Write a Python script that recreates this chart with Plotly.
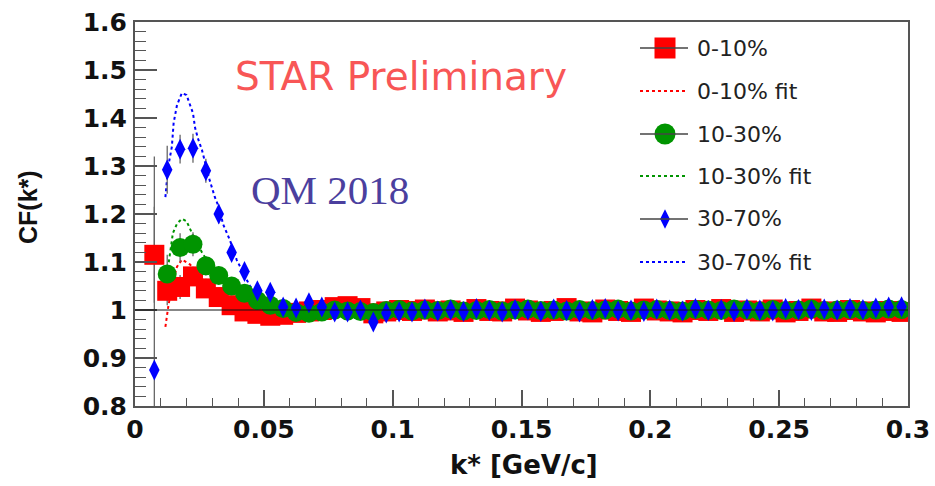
import plotly.graph_objects as go

# k* bin centres [GeV/c]
K = [0.0075, 0.0125, 0.0175, 0.0225, 0.0275, 0.0325, 0.0375, 0.0425, 0.0475, 0.0525,
     0.0575, 0.0625, 0.0675, 0.0725, 0.0775, 0.0825, 0.0875, 0.0925, 0.0975, 0.1025,
     0.1075, 0.1125, 0.1175, 0.1225, 0.1275, 0.1325, 0.1375, 0.1425, 0.1475, 0.1525,
     0.1575, 0.1625, 0.1675, 0.1725, 0.1775, 0.1825, 0.1875, 0.1925, 0.1975, 0.2025,
     0.2075, 0.2125, 0.2175, 0.2225, 0.2275, 0.2325, 0.2375, 0.2425, 0.2475, 0.2525,
     0.2575, 0.2625, 0.2675, 0.2725, 0.2775, 0.2825, 0.2875, 0.2925, 0.2975]

# correlation function, 0-10% centrality
CF_0_10 = [1.115, 1.040, 1.048, 1.070, 1.045, 1.027, 1.010, 0.997, 0.992, 0.988,
           0.990, 0.994, 0.997, 1.000, 1.006, 1.008, 1.004, 0.993, 0.997, 1.000,
           0.998, 1.001, 0.997, 0.999, 0.996, 1.002, 0.998, 0.997, 1.003, 0.999,
           0.996, 0.998, 1.004, 0.997, 0.995, 1.001, 0.998, 0.996, 1.003, 0.999,
           0.997, 0.995, 1.000, 0.998, 1.002, 0.996, 0.999, 0.997, 1.001, 0.995,
           0.998, 1.003, 0.997, 0.996, 1.000, 0.997, 0.995, 0.998, 0.996]

# correlation function, 10-30% centrality
CF_10_30 = [None, 1.075, 1.130, 1.137, 1.092, 1.072, 1.050, 1.035, 1.020, 1.010,
            1.003, 0.995, 0.993, 0.996, 1.000, 0.998, 0.997, 0.995, 0.999, 1.001,
            0.998, 1.000, 0.999, 1.002, 0.998, 0.999, 1.001, 0.998, 1.000, 1.002,
            0.999, 1.000, 0.998, 1.001, 0.999, 1.000, 1.002, 0.998, 1.000, 1.001,
            0.999, 0.998, 1.001, 1.000, 0.999, 1.002, 1.000, 0.998, 1.001, 0.999,
            1.000, 1.002, 0.999, 1.000, 1.001, 0.999, 1.000, 1.002, 1.001]

# correlation function, 30-70% centrality
CF_30_70 = [0.875, 1.292, 1.335, 1.337, 1.290, 1.200, 1.120, 1.080, 1.040, 1.037,
            1.006, 1.004, 1.015, 1.006, 0.996, 0.996, 1.000, 0.975, 0.994, 0.996,
            0.996, 1.002, 0.998, 1.000, 0.997, 1.003, 0.999, 0.996, 1.001, 1.000,
            0.997, 1.002, 0.999, 0.996, 1.001, 1.003, 0.998, 1.000, 0.997, 1.002,
            1.000, 0.998, 1.003, 0.999, 1.001, 0.997, 1.002, 1.000, 0.998, 1.003,
            1.001, 0.999, 1.002, 1.000, 1.003, 1.001, 1.004, 1.006, 1.007]

# statistical errors of the lowest bins (higher bins are smaller than the markers)
ERR_0_10 = [0.10, 0.03, 0.025, 0.02, 0.02, 0.015]
ERR_10_30 = [None, 0.04, 0.03, 0.025, 0.02, 0.015]
ERR_30_70 = [0.445, 0.05, 0.03, 0.03, 0.025, 0.02]

# fitted curves
FIT_0_10_K = [0.0118, 0.0125, 0.0130, 0.0147, 0.0163, 0.0182, 0.0200, 0.0213, 0.0230,
              0.0260, 0.0300, 0.0350, 0.0400, 0.0500, 0.0600, 0.3000]
FIT_0_10 = [0.965, 0.990, 1.010, 1.060, 1.090, 1.105, 1.100, 1.095, 1.085,
            1.065, 1.045, 1.025, 1.012, 1.003, 1.000, 1.000]

FIT_10_30_K = [0.0118, 0.0130, 0.0147, 0.0163, 0.0182, 0.0200, 0.0213, 0.0230, 0.0260,
               0.0300, 0.0350, 0.0400, 0.0450, 0.0500, 0.0600, 0.0800, 0.3000]
FIT_10_30 = [1.050, 1.100, 1.160, 1.180, 1.190, 1.185, 1.170, 1.150, 1.120,
             1.085, 1.055, 1.035, 1.020, 1.012, 1.005, 1.000, 1.000]

FIT_30_70_K = [0.0118, 0.0128, 0.0143, 0.0150, 0.0163, 0.0182, 0.0200, 0.0213, 0.0225,
               0.0233, 0.0244, 0.0260, 0.0271, 0.0290, 0.0310, 0.0330, 0.0341, 0.0368,
               0.0395, 0.0446, 0.0492, 0.0562, 0.0700, 0.1000, 0.3000]
FIT_30_70 = [1.235, 1.296, 1.340, 1.390, 1.427, 1.452, 1.448, 1.430, 1.410,
             1.380, 1.358, 1.333, 1.310, 1.270, 1.235, 1.208, 1.180, 1.146,
             1.104, 1.050, 1.025, 1.010, 1.003, 1.000, 1.000]

LEGEND_LABELS = ["0-10%", "0-10% fit", "10-30%", "10-30% fit", "30-70%", "30-70% fit"]

RED, GREEN, BLUE = "#ff0000", "#009400", "#0000ff"

# frame of the plotting area in pixels
W, H = 935, 486
L, R, T, B = 135, 908, 22, 406


def px_x(px):
    return (px - L) / (R - L)


def px_y(py):
    return (B - py) / (B - T)


fig = go.Figure()

# fits
for kx, ky, col in [(FIT_0_10_K, FIT_0_10, RED), (FIT_10_30_K, FIT_10_30, GREEN),
                    (FIT_30_70_K, FIT_30_70, BLUE)]:
    fig.add_trace(go.Scatter(x=kx, y=ky, mode="lines",
                             line=dict(color=col, width=2, dash="dot"),
                             showlegend=False, hoverinfo="skip"))

# error bars of the low-k bins
for ys, errs in [(CF_0_10, ERR_0_10), (CF_10_30, ERR_10_30), (CF_30_70, ERR_30_70)]:
    n = len(errs)
    fig.add_trace(go.Scatter(x=K[:n], y=ys[:n], mode="markers",
                             marker=dict(size=1, opacity=0),
                             error_y=dict(type="data", array=errs, symmetric=True,
                                          color="#666666", thickness=1.3, width=0),
                             showlegend=False, hoverinfo="skip"))

# data points
fig.add_trace(go.Scatter(x=K, y=CF_0_10, mode="markers", name="0-10%",
                         marker=dict(symbol="square", size=20, color=RED),
                         showlegend=False))
fig.add_trace(go.Scatter(x=K, y=CF_10_30, mode="markers", name="10-30%",
                         marker=dict(symbol="circle", size=19, color=GREEN),
                         showlegend=False))
fig.add_trace(go.Scatter(x=K, y=CF_30_70, mode="markers", name="30-70%",
                         marker=dict(symbol="diamond-tall", size=15, color=BLUE),
                         showlegend=False))

# reference line at CF = 1
fig.add_shape(type="line", xref="x", yref="y", x0=0, x1=0.3, y0=1, y1=1,
              line=dict(color="#111111", width=1.2))

# hand-drawn legend on a pixel-unit overlay axis
rows_y = [48, 91, 134, 176, 219, 262]
styles = [("square", RED, 21, None), (None, RED, None, "dot"),
          ("circle", GREEN, 21, None), (None, GREEN, None, "dot"),
          ("diamond-tall", BLUE, 14, None), (None, BLUE, None, "dot")]
for ry, (sym, col, size, dash), lab in zip(rows_y, styles, LEGEND_LABELS):
    if sym:
        fig.add_shape(type="line", xref="x2", yref="y2", x0=640, x1=688, y0=ry, y1=ry,
                      line=dict(color="#444444", width=1.5))
        fig.add_trace(go.Scatter(x=[665], y=[ry], xaxis="x2", yaxis="y2", mode="markers",
                                 marker=dict(symbol=sym, size=size, color=col),
                                 showlegend=False, hoverinfo="skip"))
    else:
        fig.add_shape(type="line", xref="x2", yref="y2", x0=640, x1=688, y0=ry, y1=ry,
                      line=dict(color=col, width=2, dash=dash))
    fig.add_annotation(x=px_x(695), y=px_y(ry), xref="paper", yref="paper", text=lab,
                       showarrow=False, xanchor="left", yanchor="middle",
                       font=dict(family="DejaVu Sans", size=22, color="#222222"))

# labels inside the frame
fig.add_annotation(x=px_x(233), y=px_y(76), xref="paper", yref="paper",
                   text="STAR Preliminary", showarrow=False, xanchor="left",
                   yanchor="middle",
                   font=dict(family="DejaVu Sans", size=39, color="#f85656"))
fig.add_annotation(x=px_x(249), y=px_y(190), xref="paper", yref="paper",
                   text="QM 2018", showarrow=False, xanchor="left", yanchor="middle",
                   font=dict(family="Liberation Serif", size=41, color="#4b3f9e"))

# axis titles
fig.add_annotation(x=px_x(524), y=px_y(465), xref="paper", yref="paper",
                   text="k* [GeV/c]", showarrow=False, xanchor="center",
                   yanchor="middle",
                   font=dict(family="DejaVu Sans", size=26, color="#111111", weight="bold"))
fig.add_annotation(x=px_x(28), y=px_y(207), xref="paper", yref="paper",
                   text="CF(k*)", textangle=-90, showarrow=False, xanchor="center",
                   yanchor="middle",
                   font=dict(family="Liberation Sans", size=25, color="#111111", weight="bold"))

tickfont = dict(family="DejaVu Sans", size=25, color="#111111", weight="bold")
axcol = "#555555"

fig.update_layout(
    width=W, height=H,
    margin=dict(l=L, r=W - R, t=T, b=H - B, pad=0),
    paper_bgcolor="white", plot_bgcolor="white",
    showlegend=False,
    xaxis=dict(range=[0, 0.3], tickvals=[0, 0.05, 0.1, 0.15, 0.2, 0.25, 0.3],
               ticktext=["0", "0.05", "0.1", "0.15", "0.2", "0.25", "0.3"],
               ticks="inside", ticklen=16, tickwidth=1.5, tickcolor=axcol,
               minor=dict(dtick=0.01, tick0=0, ticks="inside", ticklen=8,
                          tickwidth=1.2, tickcolor=axcol, showgrid=False),
               showline=True, linecolor=axcol, linewidth=2, mirror=True,
               showgrid=False, zeroline=False, tickfont=tickfont, automargin=False,
               ticklabelstandoff=0),
    yaxis=dict(range=[0.8, 1.6], tickvals=[0.8, 0.9, 1.0, 1.1, 1.2, 1.3, 1.4, 1.5, 1.6],
               ticktext=["0.8", "0.9", "1", "1.1", "1.2", "1.3", "1.4", "1.5", "1.6"],
               ticks="inside", ticklen=22, tickwidth=1.5, tickcolor=axcol,
               minor=dict(dtick=0.02, tick0=0.8, ticks="inside", ticklen=11,
                          tickwidth=1.2, tickcolor=axcol, showgrid=False),
               showline=True, linecolor=axcol, linewidth=2, mirror=True,
               showgrid=False, zeroline=False, tickfont=tickfont, automargin=False,
               ticklabelstandoff=1),
    xaxis2=dict(overlaying="x", range=[L, R], visible=False, fixedrange=True),
    yaxis2=dict(overlaying="y", range=[B, T], visible=False, fixedrange=True),
)

fig.write_html("out.html")
